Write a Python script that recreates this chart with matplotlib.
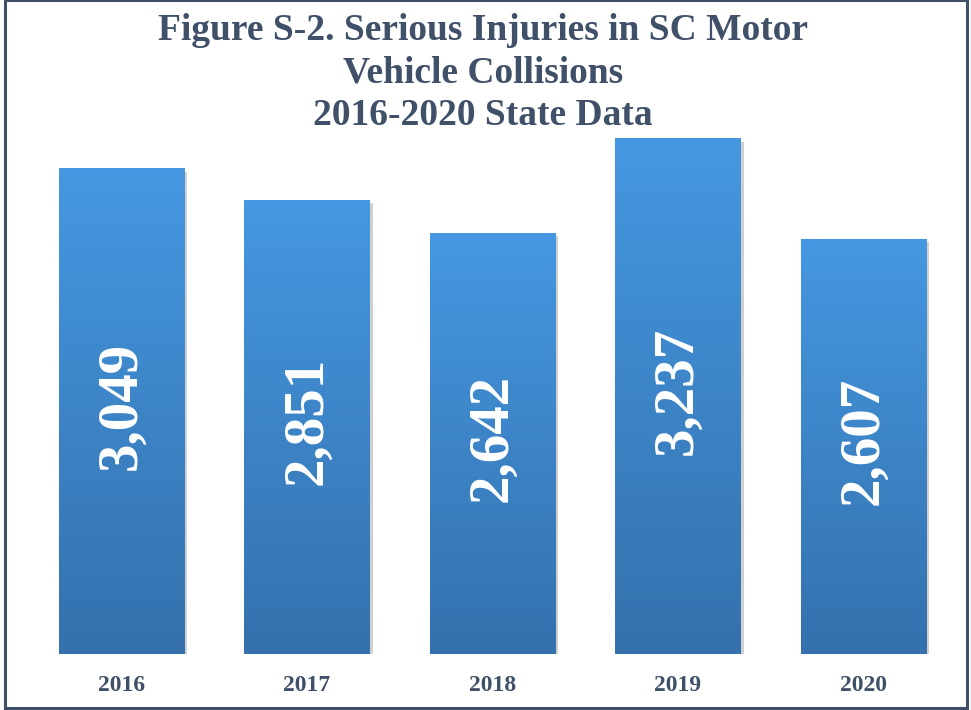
import numpy as np
import matplotlib.pyplot as plt
from matplotlib.patches import Rectangle
from matplotlib.colors import LinearSegmentedColormap
import matplotlib.patheffects as pe

years = ["2016", "2017", "2018", "2019", "2020"]
injuries = [3049, 2851, 2642, 3237, 2607]

TEXT_COLOR = "#3F5068"
TOP_BLUE = "#4598E1"
BOTTOM_BLUE = "#3471AD"

plt.rcParams["font.family"] = ["Liberation Serif", "DejaVu Serif"]

fig = plt.figure(figsize=(9.71, 7.10), dpi=100)
ax = fig.add_axes([0.0296, 0.0789, 0.955, 0.763])

x = np.arange(len(years))
bars = ax.bar(x, injuries, width=0.674, color=TOP_BLUE, zorder=2,
              path_effects=[pe.SimplePatchShadow(offset=(2.5, -2.5), shadow_rgbFace="#666666", alpha=0.3),
                            pe.Normal()])

# vertical gradient fill, clipped to each bar
grad = np.linspace(0, 1, 256).reshape(-1, 1)
cmap = LinearSegmentedColormap.from_list("barfill", [BOTTOM_BLUE, TOP_BLUE])
for b in bars:
    x0, w, h = b.get_x(), b.get_width(), b.get_height()
    im = ax.imshow(grad, cmap=cmap, aspect="auto", origin="lower",
                   extent=[x0, x0 + w, 0, h], zorder=3)
    im.set_clip_path(b)

for xi, v in zip(x, injuries):
    ax.annotate(f"{v:,}", (xi, v / 2), xytext=(0, 4), textcoords="offset points",
                rotation=90, ha="center", va="center",
                color="white", fontsize=41, fontweight="bold", zorder=4)

ax.set_xlim(-0.5, len(years) - 0.5)
ax.set_ylim(0, 3400)
ax.set_xticks(x)
ax.set_xticklabels(years, fontsize=17, fontweight="bold", color=TEXT_COLOR)
ax.tick_params(axis="x", length=0, pad=15)
ax.set_yticks([])
for s in ax.spines.values():
    s.set_visible(False)

fig.text(0.497, 0.981, "Figure S-2. Serious Injuries in SC Motor\nVehicle Collisions\n2016-2020 State Data",
         ha="center", va="top", fontsize=27, fontweight="bold", color=TEXT_COLOR, linespacing=1.27)

fig.add_artist(Rectangle((0.005, 0.003), 0.991, 0.997, transform=fig.transFigure,
                         fill=False, edgecolor=TEXT_COLOR, linewidth=2.2))

fig.savefig("out.png", dpi=100)
